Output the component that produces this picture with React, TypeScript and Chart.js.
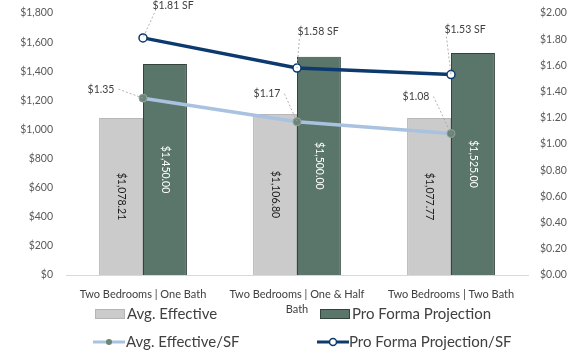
import React, { useEffect, useRef } from "react";
import { Chart, registerables } from "chart.js";

Chart.register(...registerables);

const categories: (string | string[])[] = [
  "Two Bedrooms | One Bath",
  ["Two Bedrooms | One & Half", "Bath"],
  "Two Bedrooms | Two Bath",
];
const avgEffective = [1078.21, 1106.8, 1077.77];
const proForma = [1450.0, 1500.0, 1525.0];
const avgEffectiveSF = [1.35, 1.17, 1.08];
const proFormaSF = [1.81, 1.58, 1.53];

const FONT = "Lato, 'Open Sans', sans-serif";
const GRAY = "#cbcbcb";
const GREEN = "#5a766a";
const NAVY = "#0c3a6e";
const LIGHTBLUE = "#a9c2df";

const money = (v: number) =>
  "$" + v.toLocaleString("en-US", { minimumFractionDigits: 2, maximumFractionDigits: 2 });

const labelPlugin = {
  id: "customLabels",
  afterDatasetsDraw(chart: any) {
    const ctx = chart.ctx;
    ctx.save();
    [0, 1].forEach((di) => {
      const meta = chart.getDatasetMeta(di);
      const data = chart.data.datasets[di].data as number[];
      meta.data.forEach((bar: any, i: number) => {
        const cy = (bar.y + bar.base) / 2;
        ctx.save();
        ctx.translate(bar.x, cy);
        ctx.rotate(Math.PI / 2);
        ctx.font = `10.5px ${FONT}`;
        ctx.fillStyle = di === 0 ? "#1a1a1a" : "#ffffff";
        ctx.textAlign = "center";
        ctx.textBaseline = "middle";
        ctx.fillText(money(data[i]), 0, 0);
        ctx.restore();
      });
    });
    const proOff = [
      [30, -32],
      [21, -36],
      [14, -45],
    ];
    const avgOff = [
      [-42, -9],
      [-30, -28],
      [-35, -37],
    ];
    ctx.font = `10.5px ${FONT}`;
    ctx.textAlign = "center";
    ctx.textBaseline = "middle";
    const drawLbl = (di: number, offs: number[][], fmt: (v: number) => string) => {
      const meta = chart.getDatasetMeta(di);
      const data = chart.data.datasets[di].data as number[];
      meta.data.forEach((pt: any, i: number) => {
        const [dx, dy] = offs[i];
        const lx = pt.x + dx;
        const ly = pt.y + dy;
        const text = fmt(data[i]);
        const w = ctx.measureText(text).width;
        ctx.strokeStyle = "#a0a0a0";
        ctx.lineWidth = 0.8;
        ctx.setLineDash([2, 2]);
        ctx.beginPath();
        let sx: number, sy: number;
        if (dx > 0) {
          sx = lx - w / 2 + 2;
          sy = ly + 7;
        } else {
          sx = lx + w / 2 + 4;
          sy = ly;
        }
        ctx.moveTo(sx, sy);
        ctx.lineTo(pt.x, pt.y);
        ctx.stroke();
        ctx.setLineDash([]);
        ctx.fillStyle = "#404040";
        ctx.fillText(text, lx, ly);
      });
    };
    drawLbl(3, proOff, (v) => "$" + v.toFixed(2) + " SF");
    drawLbl(2, avgOff, (v) => "$" + v.toFixed(2));
    ctx.restore();
  },
  afterDraw(chart: any) {
    const ctx = chart.ctx;
    ctx.save();
    ctx.font = `15px ${FONT}`;
    ctx.fillStyle = "#404040";
    ctx.textBaseline = "middle";
    ctx.textAlign = "left";
    const r1 = 314;
    const r2 = 342;
    const box = (x: number, y: number, fill: string, stroke: string) => {
      ctx.fillStyle = fill;
      ctx.fillRect(x, y - 5, 30, 10);
      ctx.strokeStyle = stroke;
      ctx.lineWidth = 1;
      ctx.strokeRect(x + 0.5, y - 4.5, 29, 9);
    };
    box(95, r1, GRAY, "#b5b5b5");
    ctx.fillStyle = "#404040";
    ctx.fillText("Avg. Effective", 127, r1);
    box(320, r1, GREEN, "#34443c");
    ctx.fillStyle = "#404040";
    ctx.fillText("Pro Forma Projection", 352, r1);
    ctx.lineWidth = 3;
    ctx.strokeStyle = LIGHTBLUE;
    ctx.beginPath();
    ctx.moveTo(93, r2);
    ctx.lineTo(125, r2);
    ctx.stroke();
    ctx.fillStyle = "#6c8579";
    ctx.beginPath();
    ctx.arc(109, r2, 3, 0, Math.PI * 2);
    ctx.fill();
    ctx.fillStyle = "#404040";
    ctx.fillText("Avg. Effective/SF", 126, r2);
    ctx.strokeStyle = NAVY;
    ctx.beginPath();
    ctx.moveTo(317, r2);
    ctx.lineTo(349, r2);
    ctx.stroke();
    ctx.fillStyle = "#ffffff";
    ctx.lineWidth = 1.5;
    ctx.beginPath();
    ctx.arc(333, r2, 3.5, 0, Math.PI * 2);
    ctx.fill();
    ctx.stroke();
    ctx.fillStyle = "#404040";
    ctx.fillText("Pro Forma Projection/SF", 349, r2);
    ctx.restore();
  },
};

export default function App() {
  const ref = useRef<HTMLCanvasElement>(null);
  useEffect(() => {
    document.body.style.margin = "0";
    const chart = new Chart(ref.current as HTMLCanvasElement, {
      type: "bar",
      data: {
        labels: categories as any,
        datasets: [
          {
            type: "bar",
            label: "Avg. Effective",
            data: avgEffective,
            backgroundColor: GRAY,
            borderColor: "#b8b8b8",
            borderWidth: 1,
            yAxisID: "y",
            order: 2,
            categoryPercentage: 0.57,
            barPercentage: 1,
          },
          {
            type: "bar",
            label: "Pro Forma Projection",
            data: proForma,
            backgroundColor: GREEN,
            borderColor: "#34443c",
            borderWidth: 1,
            yAxisID: "y",
            order: 2,
            categoryPercentage: 0.57,
            barPercentage: 1,
          },
          {
            type: "line",
            label: "Avg. Effective/SF",
            data: avgEffectiveSF,
            borderColor: LIGHTBLUE,
            borderWidth: 3.5,
            pointBackgroundColor: "#6c8579",
            pointBorderColor: "#8fa49a",
            pointBorderWidth: 1,
            pointRadius: 4,
            yAxisID: "y1",
            order: 1,
          } as any,
          {
            type: "line",
            label: "Pro Forma Projection/SF",
            data: proFormaSF,
            borderColor: NAVY,
            borderWidth: 3.5,
            pointBackgroundColor: "#ffffff",
            pointBorderColor: NAVY,
            pointBorderWidth: 1.5,
            pointRadius: 4,
            yAxisID: "y1",
            order: 0,
          } as any,
        ],
      },
      options: {
        responsive: false,
        animation: false,
        layout: { padding: { top: 13, left: 0, right: 0, bottom: 0 } },
        plugins: {
          legend: { display: false },
          tooltip: { enabled: false },
        },
        scales: {
          x: {
            grid: { display: false, drawTicks: false },
            border: { display: true, color: "#d9d9d9", width: 1 },
            ticks: {
              color: "#404040",
              font: { family: FONT, size: 11, lineHeight: 1.45 },
              maxRotation: 0,
              autoSkip: false,
              padding: 11,
            },
            afterFit: (s: any) => {
              s.height = 80;
              s.paddingLeft = 0;
              s.paddingRight = 0;
            },
          },
          y: {
            position: "left",
            min: 0,
            max: 1800,
            grid: { display: false, drawTicks: false },
            border: { display: false },
            ticks: {
              stepSize: 200,
              color: "#595959",
              font: { family: FONT, size: 10.5 },
              padding: 13,
              callback: (v: any) => "$" + Number(v).toLocaleString("en-US"),
            },
            afterFit: (s: any) => {
              s.width = 66;
              s.paddingTop = 0;
              s.paddingBottom = 0;
            },
          },
          y1: {
            position: "right",
            min: 0,
            max: 2,
            grid: { display: false, drawTicks: false },
            border: { display: false },
            ticks: {
              stepSize: 0.2,
              color: "#595959",
              font: { family: FONT, size: 10.5 },
              padding: 12,
              callback: (v: any) => "$" + Number(v).toFixed(2),
            },
            afterFit: (s: any) => {
              s.width = 52;
              s.paddingTop = 0;
              s.paddingBottom = 0;
            },
          },
        },
      },
      plugins: [labelPlugin],
    });
    return () => chart.destroy();
  }, []);
  return (
    <div style={{ position: "absolute", left: 0, top: 0, width: 580, height: 355, background: "#fff" }}>
      <canvas ref={ref} width={580} height={355} style={{ width: 580, height: 355 }} />
    </div>
  );
}
